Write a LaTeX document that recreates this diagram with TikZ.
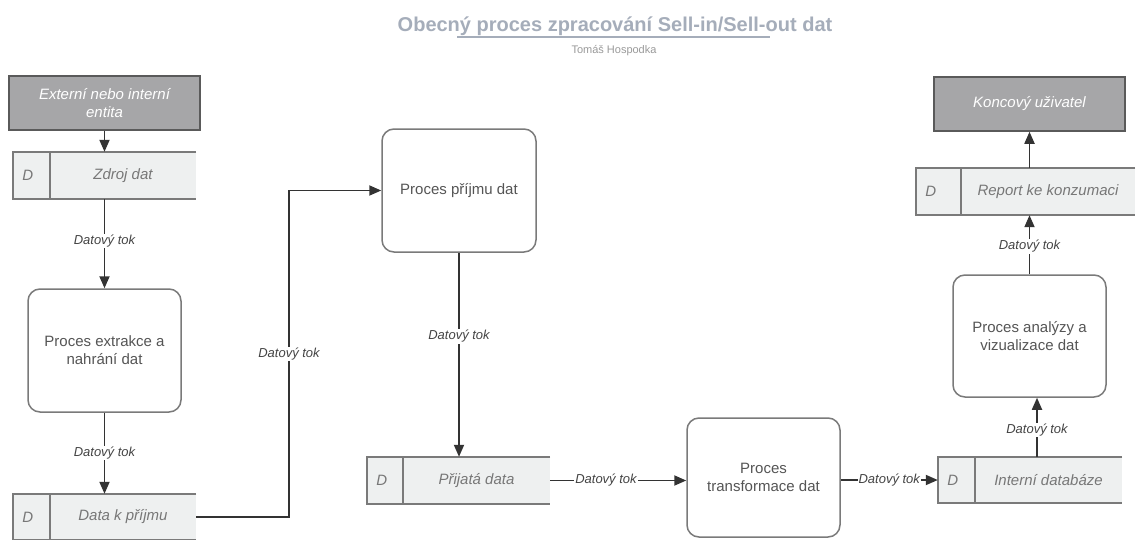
\documentclass[tikz,border=0pt]{standalone}
\usepackage{fontspec}
\setmainfont{Liberation Sans}
\usetikzlibrary{arrows.meta,calc}
\definecolor{titlec}{HTML}{A5ADBA}
\definecolor{subc}{HTML}{9A9A9A}
\definecolor{bordc}{HTML}{7A7A7A}
\definecolor{proct}{HTML}{555555}
\definecolor{entf}{HTML}{A6A6A8}
\definecolor{entb}{HTML}{5A5A5A}
\definecolor{storef}{HTML}{EEF0F0}
\definecolor{storet}{HTML}{777777}
\definecolor{flowc}{HTML}{333333}
\definecolor{lblc}{HTML}{444444}
\tikzset{
  proc/.style={draw=bordc, line width=1.5pt, rounded corners=12pt, fill=white, text=proct, align=center, font=\fontsize{15}{18}\selectfont, inner sep=0pt},
  entity/.style={draw=entb, line width=1.5pt, fill=entf, text=white, align=center, font=\fontsize{15}{18}\selectfont\itshape, inner sep=0pt},
  storebg/.style={fill=storef, inner sep=0pt},
  storeline/.style={draw=bordc, line width=1.5pt},
  storetext/.style={text=storet, font=\fontsize{15}{18}\selectfont\itshape, inner sep=0pt},
  flow/.style={draw=flowc, line width=1.8pt, -{Triangle[length=12pt,width=10pt]}},
  lbl/.style={fill=white, text=lblc, font=\fontsize{13}{15}\selectfont\itshape, inner sep=1pt},
}
\newcommand{\mystore}[7]{%
  \node[storebg, minimum width=#4pt, minimum height=#5pt] (#1) at (#2,#3) {};
  \draw[storeline] (#1.north east) -- (#1.north west) -- (#1.south west) -- (#1.south east);
  \draw[storeline] ([xshift=#6pt]#1.north west) -- ([xshift=#6pt]#1.south west);
  \node[storetext] (#1-d) at ([xshift=15pt]#1.west) {D};
  \node[storetext] (#1-t) at ($([xshift=#6pt]#1.west)!0.5!(#1.east)$) {#7};
}
\begin{document}
\begin{tikzpicture}[x=1pt,y=-1pt]
\useasboundingbox (0,0) rectangle (1136,539);
\fill[white] (0,0) rectangle (1136,539);

% title
\node[font=\fontsize{20}{24}\selectfont\bfseries, text=titlec, anchor=base, inner sep=0pt] (title) at (615,31) {Obecný proces zpracování Sell-in/Sell-out dat};
\draw[titlec, line width=1.5pt] (457,37) -- (770,37);
\node[font=\fontsize{11}{13}\selectfont, text=subc, anchor=base, inner sep=0pt] (author) at (614,53) {Tomáš Hospodka};

% entities
\node[entity, minimum width=191pt, minimum height=54pt] (entity) at (104.5,103) {Externí nebo interní\\entita};
\node[entity, minimum width=191pt, minimum height=54pt] (uzivatel) at (1029.5,104) {Koncový uživatel};

% processes
\node[proc, minimum width=153pt, minimum height=123pt] (extrakce) at (104.5,350.5) {Proces extrakce a\\nahrání dat};
\node[proc, minimum width=154pt, minimum height=123pt] (prijem) at (459,190.5) {Proces příjmu dat};
\node[proc, minimum width=153pt, minimum height=119pt] (transf) at (763.5,477.5) {Proces\\transformace dat};
\node[proc, minimum width=153pt, minimum height=122pt] (analyza) at (1029.5,336) {Proces analýzy a\\vizualizace dat};

% data stores
\mystore{zdroj}{104.5}{175.5}{183}{47}{37}{Zdroj dat}
\mystore{kprijmu}{104.5}{517}{183}{46}{37}{Data k příjmu}
\mystore{prijata}{458.5}{480.5}{183}{47}{36}{Přijatá data}
\mystore{interni}{1030}{480}{184}{46}{37}{Interní databáze}
\mystore{report}{1025.5}{191.5}{219}{47}{45}{Report ke konzumaci}

% connectors
\coordinate (bend) at (289,0);
\draw[flow] (entity.south) -- (zdroj.north);
\draw[flow] (zdroj.south) -- node[lbl, pos=0.47] {Datový tok} (extrakce.north);
\draw[flow] (extrakce.south) -- node[lbl] {Datový tok} (kprijmu.north);
\draw[flow] (kprijmu.east) -- (kprijmu.east -| bend) -- node[lbl] {Datový tok} (bend |- prijem.west) -- (prijem.west);
\draw[flow] (prijem.south) -- node[lbl, pos=0.41] {Datový tok} (prijem.south |- prijata.north);
\draw[flow] (prijata.east) -- node[lbl, pos=0.41] {Datový tok} (prijata.east -| transf.west);
\draw[flow] (transf.east |- interni.west) -- node[lbl] {Datový tok} (interni.west);
\draw[flow] ([xshift=7pt]interni.north) -- node[lbl, pos=0.45] {Datový tok} ([xshift=7pt]interni.north |- analyza.south);
\draw[flow] (analyza.north) -- node[lbl, pos=0.47] {Datový tok} (analyza.north |- report.south);
\draw[flow] (uzivatel.south |- report.north) -- (uzivatel.south);
\end{tikzpicture}
\end{document}
